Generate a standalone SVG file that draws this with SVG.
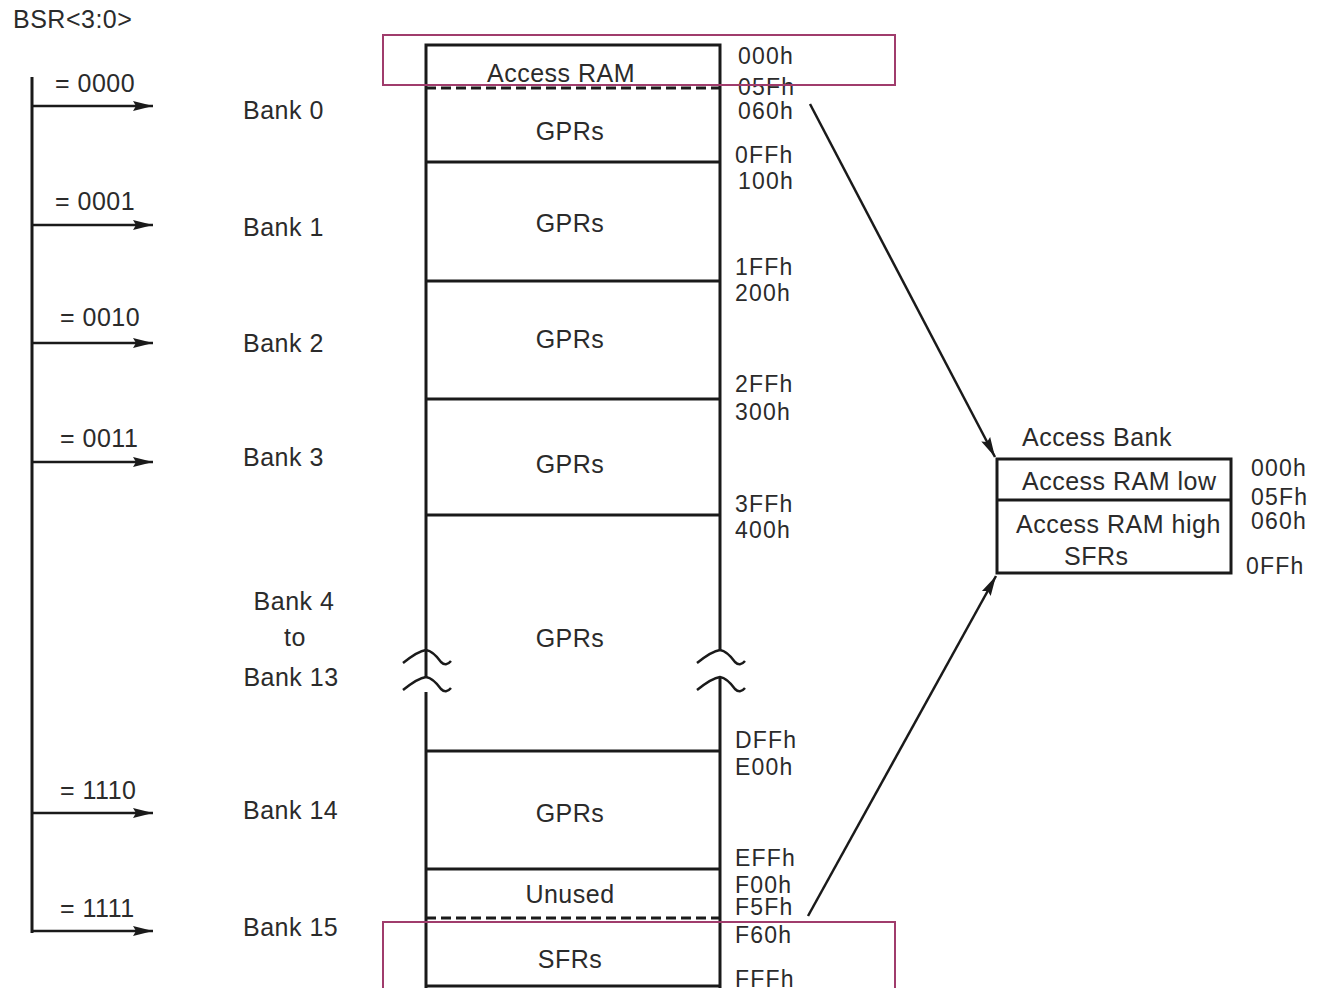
<svg xmlns="http://www.w3.org/2000/svg" width="1317" height="988" viewBox="0 0 1317 988">
<defs>
<style>
text{font-family:"Liberation Sans",Arial,sans-serif;font-size:25px;letter-spacing:0.5px;fill:#2b2b2b}
.a{font-size:23px;letter-spacing:1.2px}
.c{text-anchor:middle}
.box{fill:none;stroke:#1a1a1a;stroke-width:3}
.ln{stroke:#1a1a1a;stroke-width:3;fill:none}
.dash{stroke:#1a1a1a;stroke-width:3;stroke-dasharray:10 5;fill:none}
.arr{stroke:#1a1a1a;stroke-width:2.5;fill:none}
.hl{fill:none;stroke:#a03c6c;stroke-width:2}
.brk{stroke:#1a1a1a;stroke-width:2.5;fill:none}
</style>
<marker id="ahb" viewBox="0 0 20 10" refX="20" refY="5" markerWidth="20" markerHeight="12" markerUnits="userSpaceOnUse" orient="auto">
<path d="M0,0 L20,5 L0,10 L3,5 z" fill="#1a1a1a"/>
</marker>
</defs>
<rect width="1317" height="988" fill="#ffffff"/>

<g id="bsr">
<text x="13" y="28">BSR&lt;3:0&gt;</text>
<line class="ln" x1="32" y1="77" x2="32" y2="933"/>
</g>

<g id="connectors">
<line class="arr" x1="32" y1="106" x2="153" y2="106" marker-end="url(#ahb)"/>
<line class="arr" x1="32" y1="225" x2="153" y2="225" marker-end="url(#ahb)"/>
<line class="arr" x1="32" y1="343" x2="153" y2="343" marker-end="url(#ahb)"/>
<line class="arr" x1="32" y1="462" x2="153" y2="462" marker-end="url(#ahb)"/>
<line class="arr" x1="32" y1="813" x2="153" y2="813" marker-end="url(#ahb)"/>
<line class="arr" x1="32" y1="931" x2="153" y2="931" marker-end="url(#ahb)"/>
<line class="arr" x1="810" y1="104" x2="995" y2="457" marker-end="url(#ahb)"/>
<line class="arr" x1="808" y1="916" x2="996" y2="576" marker-end="url(#ahb)"/>
</g>

<g id="bsr-values">
<text x="55" y="92">= 0000</text>
<text x="55" y="210">= 0001</text>
<text x="60" y="326">= 0010</text>
<text x="60" y="447">= 0011</text>
<text x="60" y="799">= 1110</text>
<text x="60" y="917">= 1111</text>
</g>

<g id="bank-labels">
<text x="243" y="119">Bank 0</text>
<text x="243" y="236">Bank 1</text>
<text x="243" y="352">Bank 2</text>
<text x="243" y="466">Bank 3</text>
<text x="294" y="610" class="c">Bank 4</text>
<text x="295" y="646" class="c">to</text>
<text x="291" y="686" class="c">Bank 13</text>
<text x="243" y="819">Bank 14</text>
<text x="243" y="936">Bank 15</text>
</g>

<g id="memory-map">
<path class="ln" d="M426,988 V692 M426,677 V651 M426,651 V45 H720 V651 M720,677 V988"/>
<line class="dash" x1="426" y1="88" x2="720" y2="88"/>
<line class="ln" x1="426" y1="162" x2="720" y2="162"/>
<line class="ln" x1="426" y1="281" x2="720" y2="281"/>
<line class="ln" x1="426" y1="399" x2="720" y2="399"/>
<line class="ln" x1="426" y1="515" x2="720" y2="515"/>
<line class="ln" x1="426" y1="751" x2="720" y2="751"/>
<line class="ln" x1="426" y1="869" x2="720" y2="869"/>
<line class="dash" x1="426" y1="918" x2="720" y2="918"/>
<line class="ln" x1="426" y1="986" x2="720" y2="986"/>
<path class="brk" d="M403,663 Q418,651 426,650 Q433,651 441,662 Q446,667 451,661"/>
<path class="brk" d="M403,690 Q418,678 426,677 Q433,678 441,689 Q446,694 451,688"/>
<path class="brk" d="M697,663 Q712,651 720,650 Q727,651 735,662 Q740,667 745,661"/>
<path class="brk" d="M697,690 Q712,678 720,677 Q727,678 735,689 Q740,694 745,688"/>
<text x="561" y="82" class="c">Access RAM</text>
<text x="570" y="140" class="c">GPRs</text>
<text x="570" y="232" class="c">GPRs</text>
<text x="570" y="348" class="c">GPRs</text>
<text x="570" y="473" class="c">GPRs</text>
<text x="570" y="647" class="c">GPRs</text>
<text x="570" y="822" class="c">GPRs</text>
<text x="570" y="903" class="c">Unused</text>
<text x="570" y="968" class="c">SFRs</text>
</g>

<g id="addresses">
<text class="a" x="738" y="64">000h</text>
<text class="a" x="738" y="95">05Fh</text>
<text class="a" x="738" y="119">060h</text>
<text class="a" x="735" y="163">0FFh</text>
<text class="a" x="738" y="189">100h</text>
<text class="a" x="735" y="275">1FFh</text>
<text class="a" x="735" y="301">200h</text>
<text class="a" x="735" y="392">2FFh</text>
<text class="a" x="735" y="420">300h</text>
<text class="a" x="735" y="512">3FFh</text>
<text class="a" x="735" y="538">400h</text>
<text class="a" x="735" y="748">DFFh</text>
<text class="a" x="735" y="775">E00h</text>
<text class="a" x="735" y="866">EFFh</text>
<text class="a" x="735" y="893">F00h</text>
<text class="a" x="735" y="915">F5Fh</text>
<text class="a" x="735" y="943">F60h</text>
<text class="a" x="735" y="987">FFFh</text>
</g>

<g id="access-bank">
<text x="1022" y="446">Access Bank</text>
<rect class="box" x="997" y="459" width="234" height="114"/>
<line class="ln" x1="997" y1="500" x2="1231" y2="500"/>
<text x="1022" y="490">Access RAM low</text>
<text x="1016" y="533">Access RAM high</text>
<text x="1064" y="565">SFRs</text>
<text class="a" x="1251" y="476">000h</text>
<text class="a" x="1251" y="505">05Fh</text>
<text class="a" x="1251" y="529">060h</text>
<text class="a" x="1246" y="574">0FFh</text>
</g>

<g id="highlights">
<rect class="hl" x="383" y="35" width="512" height="50"/>
<rect class="hl" x="383" y="922" width="512" height="80"/>
</g>
</svg>
